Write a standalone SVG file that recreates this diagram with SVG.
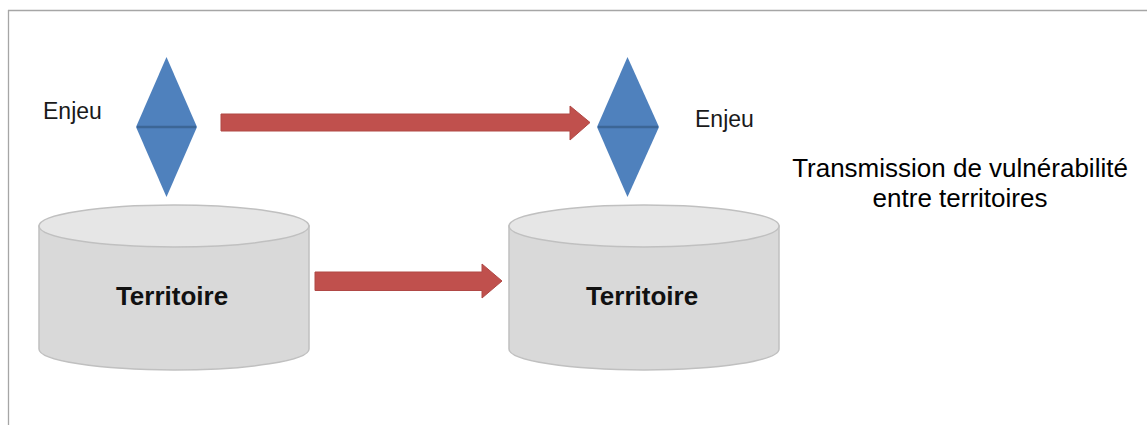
<svg xmlns="http://www.w3.org/2000/svg" width="1147" height="425" viewBox="0 0 1147 425">
  <style>
    .frame { stroke: #a6a6a6; stroke-width: 1.3; fill: none; }
    .diamond { fill: #4f81bd; }
    .dline { stroke: #3c6696; stroke-width: 2.5; }
    .arrow { fill: #c0504d; stroke: #b04845; stroke-width: 1; }
    .cylside { fill: #d9d9d9; stroke: #c0c0c0; stroke-width: 1.5; }
    .cyltop { fill: #e6e6e6; stroke: #c0c0c0; stroke-width: 1.5; }
    .lbl { font-family: "Liberation Sans", Arial, sans-serif; fill: #000; }
    .enjeu { font-size: 23px; fill: #1a1a1a; }
    .terr { font-size: 26px; font-weight: bold; text-anchor: middle; fill: #111; }
    .note { font-size: 26px; text-anchor: middle; }
  </style>

  <g id="frame">
    <line class="frame" x1="8" y1="10.5" x2="1147" y2="10.5"/>
    <line class="frame" x1="8.5" y1="10" x2="8.5" y2="425"/>
  </g>

  <g id="connectors">
    <polygon class="arrow" points="221,114 570,114 570,106 590,122.5 570,140 570,131 221,131"/>
    <polygon class="arrow" points="315,272 482,272 482,264 502,281 482,298 482,290.5 315,290.5"/>
  </g>

  <g id="enjeu1">
    <polygon class="diamond" points="166.5,57 197,127 166.5,197 136,127"/>
    <line class="dline" x1="137" y1="127" x2="196" y2="127"/>
  </g>
  <text id="enjeu1-label" class="lbl enjeu" x="43" y="119">Enjeu</text>

  <g id="enjeu2">
    <polygon class="diamond" points="627.5,57 659,127 627.5,197 597,127"/>
    <line class="dline" x1="598" y1="127" x2="658" y2="127"/>
  </g>
  <text id="enjeu2-label" class="lbl enjeu" x="695" y="127">Enjeu</text>

  <g id="territoire1">
    <path class="cylside" d="M39,226 L39,349 A135,21 0 0 0 309,349 L309,226 Z"/>
    <ellipse class="cyltop" cx="174" cy="226" rx="135" ry="21"/>
    <text class="lbl terr" x="172" y="305">Territoire</text>
  </g>

  <g id="territoire2">
    <path class="cylside" d="M509,226 L509,349 A135,21 0 0 0 779,349 L779,226 Z"/>
    <ellipse class="cyltop" cx="644" cy="226" rx="135" ry="21"/>
    <text class="lbl terr" x="642" y="305">Territoire</text>
  </g>

  <g id="note">
    <text class="lbl note" x="960" y="177">Transmission de vulnérabilité</text>
    <text class="lbl note" x="960" y="207">entre territoires</text>
  </g>
</svg>
